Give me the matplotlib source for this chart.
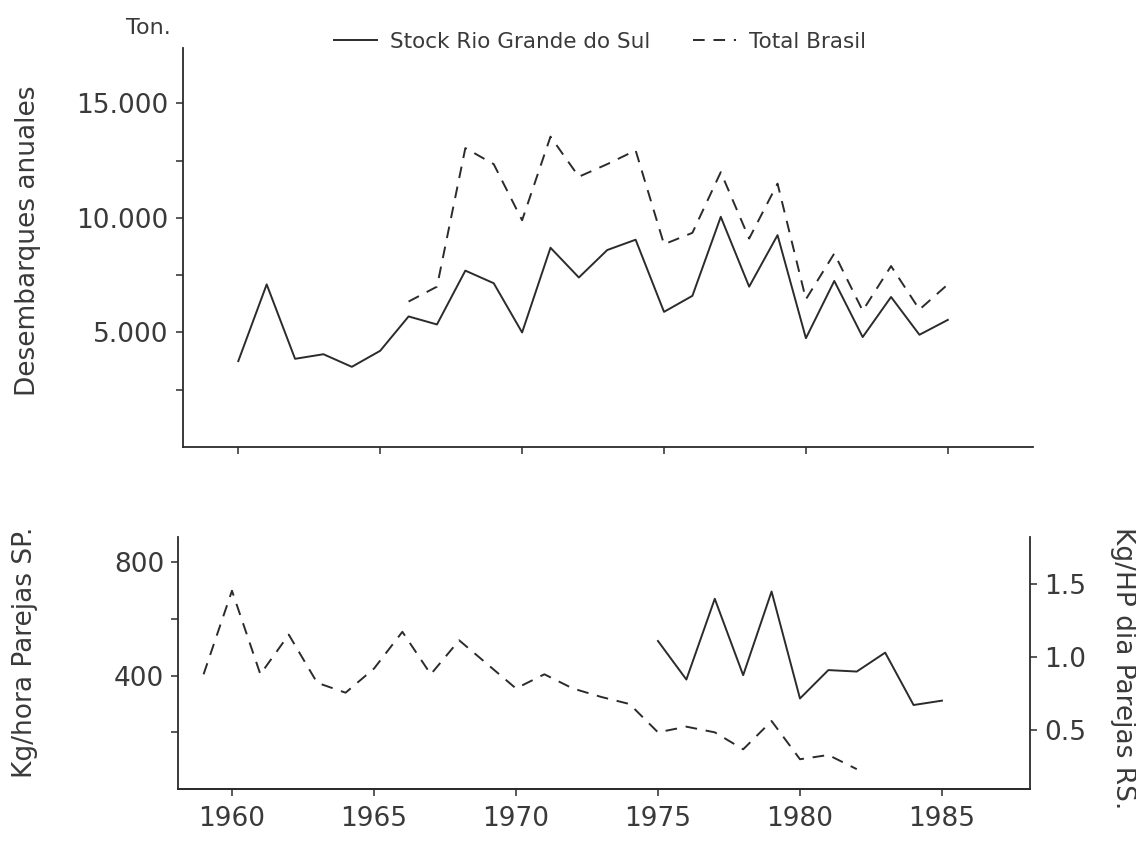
import numpy as np
import matplotlib.pyplot as plt
from matplotlib.ticker import FixedLocator, FuncFormatter

# desembarques anuales (ton.)
years_rs = list(range(1960, 1986))
stock_rs = [3750, 7100, 3850, 4050, 3500, 4200, 5700, 5350, 7700, 7150, 5000, 8700, 7400,
            8600, 9050, 5900, 6600, 10050, 7000, 9250, 4750, 7250, 4800, 6550, 4900, 5550]
years_br = list(range(1966, 1986))
total_br = [6350, 7000, 13050, 12350, 9900, 13550, 11800, 12350, 12950, 8850, 9350, 12000,
            9100, 11500, 6450, 8450, 5950, 7900, 6000, 7100]

# cpue
years_sp = list(range(1959, 1983))
kg_hora_sp = [405, 700, 405, 545, 375, 340, 425, 555, 405, 525, 440, 355, 405, 355, 325,
              300, 200, 220, 200, 140, 240, 105, 120, 70]
years_hp = list(range(1975, 1986))
kg_hp_rs = [1.11, 0.845, 1.40, 0.875, 1.45, 0.715, 0.91, 0.90, 1.03, 0.67, 0.70]

plt.rcParams['font.family'] = ['DejaVu Sans']
ink = '#2b2b2b'
txt = '#3a3a3a'
lw = 1.4
dash = (0, (6, 4.5))

fig = plt.figure(figsize=(11.36, 8.44), dpi=100)

# panel superior
ax1 = fig.add_axes([0.1608, 0.4704, 0.7485, 0.4727])
ax1.plot(years_rs, stock_rs, color=ink, lw=lw, label='Stock Rio Grande do Sul')
ax1.plot(years_br, total_br, color=ink, lw=lw, linestyle=dash, label='Total Brasil')
ax1.set_xlim(1958.04, 1988.0)
ax1.set_ylim(0, 17420)
ax1.xaxis.set_major_locator(FixedLocator([1960, 1965, 1970, 1975, 1980, 1985]))
ax1.set_xticklabels([])
ax1.yaxis.set_major_locator(FixedLocator([2500, 5000, 7500, 10000, 12500, 15000]))
ax1.yaxis.set_major_formatter(FuncFormatter(
    lambda v, p: ('%d.000' % (v // 1000)) if v % 5000 == 0 else ''))
for s in ['top', 'right']:
    ax1.spines[s].set_visible(False)

# panel inferior
ax2 = fig.add_axes([0.1567, 0.0652, 0.75, 0.2986])
ax2.plot(years_sp, kg_hora_sp, color=ink, lw=lw, linestyle=dash)
ax2.set_xlim(1958.1, 1988.1)
ax2.set_ylim(0, 890)
ax2.xaxis.set_major_locator(FixedLocator([1960, 1965, 1970, 1975, 1980, 1985]))
ax2.yaxis.set_major_locator(FixedLocator([200, 400, 600, 800]))
ax2.yaxis.set_major_formatter(FuncFormatter(
    lambda v, p: '%d' % v if v % 400 == 0 else ''))
ax2.spines['top'].set_visible(False)
ax2.spines['right'].set_visible(False)

ax3 = ax2.twinx()
ax3.plot(years_hp, kg_hp_rs, color=ink, lw=lw)
ax3.set_ylim(0.093, 1.825)
ax3.yaxis.set_major_locator(FixedLocator([0.5, 1.0, 1.5]))
ax3.yaxis.set_major_formatter(FuncFormatter(lambda v, p: '%.1f' % v))
ax3.spines['top'].set_visible(False)
ax3.spines['left'].set_visible(False)

for ax in [ax1, ax2, ax3]:
    for s in ax.spines.values():
        s.set_color(ink)
        s.set_linewidth(1.3)
    ax.tick_params(direction='out', length=5, width=1.1, color=ink,
                   labelsize=19, labelcolor=txt, pad=5)
ax2.tick_params(axis='x', pad=7)

# textos
fig.text(148 / 1136, 1 - 28 / 844, 'Ton.', fontsize=16, color=txt,
         ha='center', va='center')
fig.text(28 / 1136, 1 - 241 / 844, 'Desembarques anuales', fontsize=19,
         color=txt, rotation=90, ha='center', va='center')
fig.text(25 / 1136, 1 - 652 / 844, 'Kg/hora Parejas SP.', fontsize=19,
         color=txt, rotation=90, ha='center', va='center')
fig.text(1123 / 1136, 1 - 668 / 844, 'Kg/HP dia Parejas RS.', fontsize=19,
         color=txt, rotation=270, ha='center', va='center')

fig.legend(loc='center', bbox_to_anchor=(600 / 1136, 1 - 42 / 844), ncol=2,
           frameon=False, fontsize=15.5, handlelength=2.0, handletextpad=0.6,
           columnspacing=2.0, labelcolor=txt)

fig.savefig('out.png', dpi=100)
